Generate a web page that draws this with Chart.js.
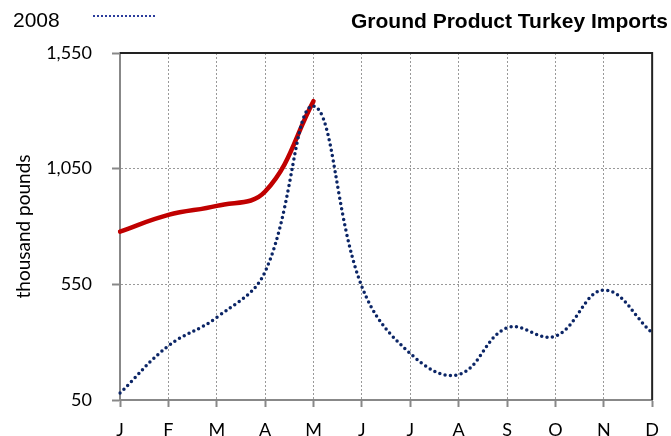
<!DOCTYPE html>
<html>
<head>
<meta charset="utf-8">
<title>Ground Product Turkey Imports</title>
<script src="https://cdn.jsdelivr.net/npm/chart.js@4.4.0/dist/chart.umd.min.js"></script>
<style>
    body { margin: 0; background: #fff; }
    #wrap { position: relative; width: 671px; height: 436px; }
    #chart { position: absolute; left: 0; top: 0; }
    .chart-title {
        position: absolute; right: 3px; top: 10px;
        font: bold 21px "Liberation Sans", Arial, sans-serif;
        line-height: 21px; white-space: nowrap; color: #000;
    }
    .legend-label {
        position: absolute; left: 13px; top: 9px;
        font: 21px "Liberation Sans", Arial, sans-serif;
        line-height: 21px; color: #000;
    }
    .legend-line {
        position: absolute; left: 93px; top: 15px; width: 62px;
        border-top: 2px dotted #2b3c9c;
    }
</style>
</head>
<body>
<div id="wrap">
    <canvas id="chart" width="671" height="436"></canvas>
    <div class="legend-label">2008</div>
    <div class="legend-line"></div>
    <div class="chart-title">Ground Product Turkey Imports</div>
</div>
<script>
// Chart data (thousand pounds)
const months = ['J', 'F', 'M', 'A', 'M', 'J', 'J', 'A', 'S', 'O', 'N', 'D'];
const imports2008 = [80, 284, 407, 605, 1320, 540, 251, 160, 362, 326, 525, 340];
const imports2009 = [778, 850, 889, 951, 1342, null, null, null, null, null, null, null];
const yTicks = [50, 550, 1050, 1550];

const tickFont = { family: 'Lato', size: 18 };

// Draw the dark top and right edges of the plot area
const plotFrame = {
    id: 'plotFrame',
    afterDraw(chart) {
        const { ctx, chartArea: a } = chart;
        ctx.save();
        ctx.strokeStyle = '#222';
        ctx.lineWidth = 2;
        ctx.beginPath();
        ctx.moveTo(a.left, a.top);
        ctx.lineTo(a.right, a.top);
        ctx.lineTo(a.right, a.bottom);
        ctx.stroke();
        ctx.restore();
    }
};

new Chart(document.getElementById('chart'), {
    type: 'line',
    data: {
        labels: months,
        datasets: [
            {
                label: '2008',
                data: imports2008,
                borderColor: '#0b2566',
                borderWidth: 3.5,
                borderDash: [0, 5.4],
                borderCapStyle: 'round',
                tension: 0.4,
                pointRadius: 0,
                fill: false
            },
            {
                label: '2009',
                data: imports2009,
                borderColor: '#c00000',
                borderWidth: 4.5,
                borderCapStyle: 'round',
                tension: 0.4,
                pointRadius: 0,
                fill: false
            }
        ]
    },
    options: {
        responsive: false,
        animation: false,
        layout: { padding: { top: 53, right: 18 } },
        plugins: {
            legend: { display: false },
            tooltip: { enabled: false }
        },
        scales: {
            x: {
                offset: false,
                grid: {
                    color: '#999',
                    tickColor: '#888',
                    tickLength: 7,
                    tickWidth: 2,
                    tickBorderDash: []
                },
                border: { color: '#888', width: 2, dash: [2, 2] },
                ticks: { font: tickFont, color: '#000', padding: 12, maxRotation: 0, autoSkip: false },
                afterFit(scale) { scale.height = 36; }
            },
            y: {
                min: 50,
                max: 1550,
                afterBuildTicks(scale) { scale.ticks = yTicks.map(v => ({ value: v })); },
                grid: {
                    color: '#999',
                    tickColor: '#888',
                    tickLength: 8,
                    tickWidth: 2,
                    tickBorderDash: []
                },
                border: { color: '#888', width: 2, dash: [2, 2] },
                ticks: {
                    font: tickFont,
                    color: '#000',
                    padding: 20,
                    callback: v => v.toLocaleString('en-US')
                },
                title: {
                    display: true,
                    text: 'thousand pounds',
                    font: { family: 'Lato', size: 19 },
                    color: '#000',
                    padding: { top: 12 }
                },
                afterFit(scale) { scale.width = 120; }
            }
        }
    },
    plugins: [plotFrame]
});
</script>
</body>
</html>
